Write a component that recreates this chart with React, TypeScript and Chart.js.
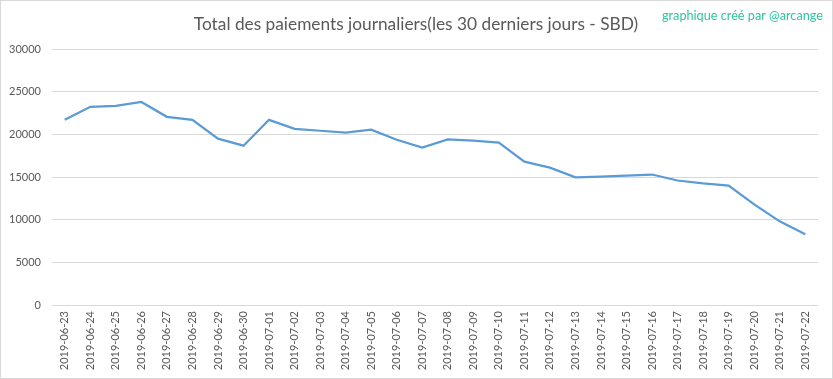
import React, { useEffect, useRef } from "react";
import { Chart, registerables } from "chart.js";

Chart.register(...registerables);

const TITLE = "Total des paiements journaliers(les 30 derniers jours - SBD)";
const WATERMARK = "graphique créé par @arcange";

const dates = [
  "2019-06-23", "2019-06-24", "2019-06-25", "2019-06-26", "2019-06-27",
  "2019-06-28", "2019-06-29", "2019-06-30", "2019-07-01", "2019-07-02",
  "2019-07-03", "2019-07-04", "2019-07-05", "2019-07-06", "2019-07-07",
  "2019-07-08", "2019-07-09", "2019-07-10", "2019-07-11", "2019-07-12",
  "2019-07-13", "2019-07-14", "2019-07-15", "2019-07-16", "2019-07-17",
  "2019-07-18", "2019-07-19", "2019-07-20", "2019-07-21", "2019-07-22",
];

const payments = [
  21700, 23220, 23340, 23800, 22050,
  21700, 19490, 18670, 21700, 20650,
  20420, 20190, 20540, 19370, 18440,
  19400, 19250, 19020, 16800, 16100,
  14970, 15050, 15170, 15290, 14590,
  14240, 14000, 11790, 9800, 8280,
];

const yMin = 0;
const yMax = 30000;
const yStep = 5000;

const FONT = "Lato, 'Open Sans', sans-serif";

const textPlugin = {
  id: "textPlugin",
  afterDraw(chart: any) {
    const ctx = chart.ctx;
    ctx.save();
    ctx.fillStyle = "#595959";
    ctx.font = `17.3px ${FONT}`;
    ctx.textAlign = "center";
    ctx.textBaseline = "alphabetic";
    ctx.fillText(TITLE, 415, 29);
    ctx.fillStyle = "#2ec4a0";
    ctx.font = `12.7px ${FONT}`;
    ctx.textAlign = "right";
    ctx.fillText(WATERMARK, 822, 19);
    ctx.restore();
  },
};

export default function App() {
  const ref = useRef<HTMLCanvasElement | null>(null);

  useEffect(() => {
    document.body.style.margin = "0";
    const canvas = ref.current;
    if (!canvas) return;
    const chart = new Chart(canvas, {
      type: "line",
      data: {
        labels: dates,
        datasets: [
          {
            data: payments,
            borderColor: "#5b9bd5",
            backgroundColor: "#5b9bd5",
            borderWidth: 2.25,
            pointRadius: 0,
            tension: 0,
            fill: false,
          },
        ],
      },
      options: {
        animation: false,
        responsive: false,
        maintainAspectRatio: false,
        layout: { padding: { left: 0, right: 14, top: 48, bottom: 8 } },
        plugins: {
          legend: { display: false },
          tooltip: { enabled: false },
          title: { display: false },
        },
        scales: {
          x: {
            offset: true,
            grid: { display: false, drawTicks: false },
            border: { display: false },
            ticks: {
              color: "#595959",
              font: { size: 11, family: FONT },
              maxRotation: 90,
              minRotation: 90,
              autoSkip: false,
              padding: 6,
            },
            afterFit(scale: any) {
              scale.height = 65;
            },
          },
          y: {
            min: yMin,
            max: yMax,
            grid: { color: "#d9d9d9", drawTicks: false, lineWidth: 1 },
            border: { display: false },
            ticks: {
              stepSize: yStep,
              color: "#595959",
              font: { size: 11, family: FONT },
              padding: 11,
              callback: (v: any) => String(v),
            },
            afterFit(scale: any) {
              scale.width = 51;
            },
          },
        },
      },
      plugins: [textPlugin],
    });
    return () => chart.destroy();
  }, []);

  return (
    <div
      style={{
        width: 833,
        height: 379,
        boxSizing: "border-box",
        border: "1px solid #d9d9d9",
        background: "#fff",
        position: "relative",
      }}
    >
      <canvas ref={ref} width={831} height={377} style={{ display: "block" }} />
    </div>
  );
}
